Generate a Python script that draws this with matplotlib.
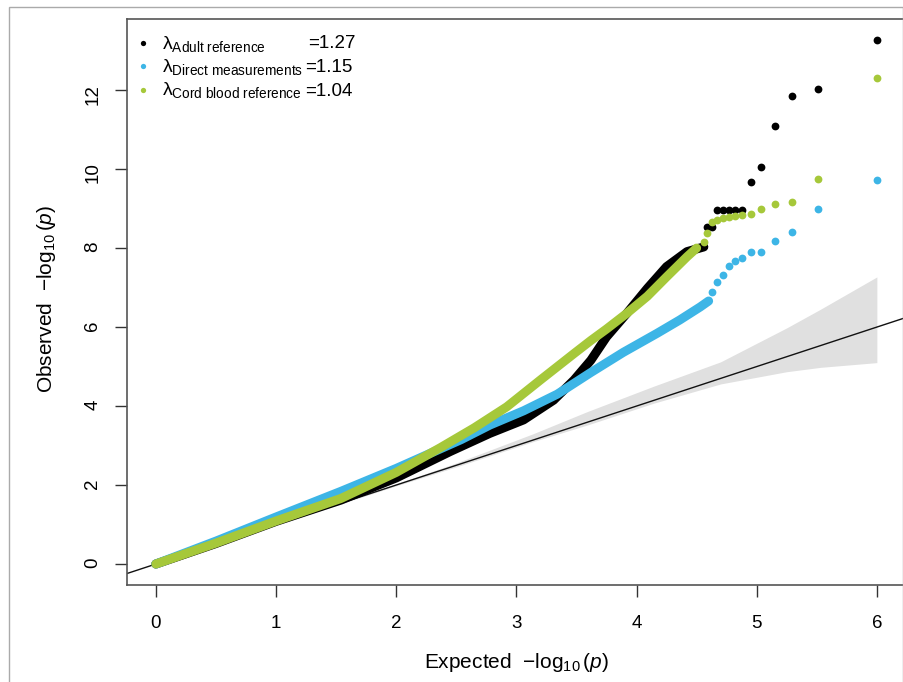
import numpy as np
import matplotlib
matplotlib.use('Agg')
import matplotlib.pyplot as plt
from matplotlib.patches import Rectangle

plt.rcParams['font.family'] = ['Liberation Sans', 'DejaVu Sans']
plt.rcParams['mathtext.fontset'] = 'custom'
plt.rcParams['mathtext.rm'] = 'Liberation Sans'
plt.rcParams['mathtext.it'] = 'Liberation Sans:italic'

# adult reference (black) - dense part of the QQ curve, then the sparse tail
adult_curve_x = [0, 0.5, 1.0, 1.54, 2.0, 2.45, 2.78, 3.06, 3.31, 3.48, 3.62, 3.75, 3.92, 4.09, 4.25, 4.42, 4.56]
adult_curve_y = [0, 0.52, 1.08, 1.62, 2.18, 2.85, 3.31, 3.65, 4.15, 4.66, 5.16, 5.75, 6.35, 6.98, 7.53, 7.91, 8.03]
adult_tail_x = [4.59, 4.63, 4.67, 4.72, 4.77, 4.82, 4.88, 4.95, 5.04, 5.15, 5.29, 5.51, 6.0]
adult_tail_y = [8.54, 8.54, 8.96, 8.96, 8.96, 8.96, 8.96, 9.68, 10.05, 11.09, 11.86, 12.04, 13.27]

# direct measurements (blue)
direct_curve_x = [0, 0.5, 1.0, 1.54, 2.0, 2.54, 2.78, 3.06, 3.34, 3.62, 3.89, 4.17, 4.36, 4.53, 4.60]
direct_curve_y = [0, 0.58, 1.19, 1.84, 2.42, 3.15, 3.52, 3.88, 4.30, 4.85, 5.36, 5.84, 6.18, 6.51, 6.66]
direct_tail_x = [4.63, 4.67, 4.72, 4.77, 4.82, 4.88, 4.95, 5.04, 5.15, 5.29, 5.51, 6.0]
direct_tail_y = [6.89, 7.15, 7.33, 7.54, 7.68, 7.76, 7.91, 7.91, 8.19, 8.41, 8.98, 9.72]

# cord blood reference (green)
cord_curve_x = [0, 0.5, 1.0, 1.54, 2.0, 2.37, 2.65, 2.92, 3.20, 3.48, 3.62, 3.75, 3.92, 4.09, 4.25, 4.42, 4.50]
cord_curve_y = [0, 0.53, 1.09, 1.66, 2.32, 2.95, 3.45, 3.98, 4.66, 5.33, 5.66, 5.95, 6.35, 6.78, 7.27, 7.78, 8.00]
cord_tail_x = [4.56, 4.59, 4.63, 4.67, 4.72, 4.77, 4.82, 4.88, 4.95, 5.04, 5.15, 5.29, 5.51, 6.0]
cord_tail_y = [8.16, 8.37, 8.67, 8.71, 8.75, 8.78, 8.81, 8.85, 8.87, 9.00, 9.11, 9.17, 9.75, 12.30]

# confidence band around the null line
band_x = [0, 2.0, 2.5, 3.14, 3.59, 4.14, 4.70, 5.25, 5.53, 6.0]
band_lo = [0, 1.98, 2.46, 3.10, 3.52, 4.07, 4.56, 4.87, 4.98, 5.10]
band_hi = [0, 2.03, 2.56, 3.30, 3.86, 4.50, 5.12, 5.98, 6.45, 7.27]

legend_names = ['Adult reference', 'Direct measurements', 'Cord blood reference']
legend_lambdas = ['1.27', '1.15', '1.04']
colors = ['#000000', '#3DB5E6', '#A6C83A']

W, H = 904, 682
fig = plt.figure(figsize=(W / 100, H / 100), dpi=100)
ax = fig.add_axes([127 / W, 1 - 585 / H, (905.7 - 127) / W, (585 - 19) / H])

ax.fill_between(band_x, band_lo, band_hi, color='#E0E0E0', lw=0, zorder=1)
ax.axline((0, 0), slope=1, color='#111111', lw=1.0, zorder=2)

series = [(adult_curve_x, adult_curve_y, adult_tail_x, adult_tail_y),
          (direct_curve_x, direct_curve_y, direct_tail_x, direct_tail_y),
          (cord_curve_x, cord_curve_y, cord_tail_x, cord_tail_y)]
for (cx, cy, tx, ty), c in zip(series, colors):
    ax.plot(cx, cy, color=c, lw=6.5, solid_capstyle='round',
            solid_joinstyle='round', zorder=3)
    ax.plot(tx, ty, 'o', color=c, ms=5.6, mew=0, zorder=3)

ax.set_xlim(-0.24, 6.24)
ax.set_ylim(-0.531, 13.801)
ax.set_xticks(range(0, 7))
ax.set_yticks(range(0, 13, 2))
ax.tick_params(length=8.6, width=1.0, color='#333333', labelsize=13.5,
               direction='out')
ax.tick_params(axis='x', pad=13)
ax.tick_params(axis='y', pad=10, labelrotation=90)
for side in ['left', 'bottom', 'top']:
    ax.spines[side].set_color('#555555')
    ax.spines[side].set_linewidth(1.2)
ax.spines['right'].set_visible(False)

ax.set_xlabel(r'Expected  $-\log_{10}(p)$', fontsize=15)
ax.set_ylabel(r'Observed  $-\log_{10}(p)$', fontsize=15)
ax.xaxis.set_label_coords(0.5, -0.117)
ax.yaxis.set_label_coords(-0.088, 0.505)

# legend drawn by hand (no box)
rows_y = [48.5, 72, 95.5]
eq_x = [308, 305, 305]
for name, lam, c, y, ex in zip(legend_names, legend_lambdas, colors, rows_y, eq_x):
    fig.add_artist(plt.Line2D([143 / W], [1 - (y - 6) / H], marker='o', ms=3.8,
                              mew=0, color=c, transform=fig.transFigure))
    label = r'$\mathrm{\lambda}_{\mathrm{' + name.replace(' ', r'\ ') + '}}$'
    fig.text(162 / W, 1 - y / H, label, fontsize=14, va='baseline', ha='left')
    fig.text(ex / W, 1 - y / H, '=' + lam, fontsize=13.5, va='baseline', ha='left')

# outer grey frame
fig.add_artist(Rectangle((9 / W, -0.1), (903 - 9) / W, 1.1 - 7 / H,
                         transform=fig.transFigure, fill=False,
                         edgecolor='#AAAAAA', lw=1.0))

fig.savefig('out.png', dpi=100)
